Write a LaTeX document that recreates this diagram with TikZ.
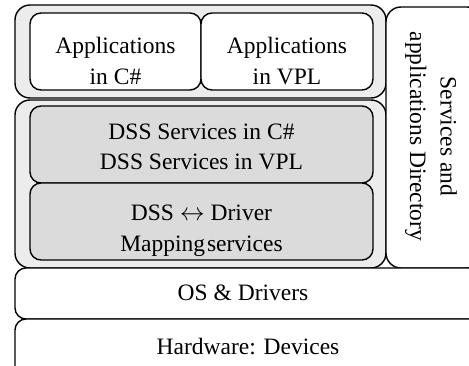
\documentclass[tikz,border=0pt]{standalone}
\usepackage{fontspec}
\setmainfont{Liberation Serif}
\begin{document}
\begin{tikzpicture}[x=1pt,y=-1pt,
  txt/.style={inner sep=0pt, align=center, font=\fontsize{23.5}{30.5}\selectfont},
  box/.style={draw=black, line width=1.4pt, inner sep=0pt, align=center,
    font=\fontsize{23.5}{30.5}\selectfont},
  outer/.style={box, fill=gray!15, rounded corners=15pt},
  inner/.style={box, rounded corners=11pt},
  svc/.style={inner, fill=gray!28},
  app/.style={inner, fill=white},
  base/.style={box, fill=white, rounded corners=11pt}]
\useasboundingbox (0,0) rectangle (469,366);
\clip (0,0) rectangle (469,366);

% application tier
\node[outer, minimum width=371pt, minimum height=93pt] (apptier) at (200.5,51.5) {};
\node[app, minimum width=171pt, minimum height=77pt] (appcs) at (115.5,51.5) {};
\node[app, minimum width=172pt, minimum height=77pt] (appvpl) at (287,51.5) {};
\node[txt] (appcstext) at ([yshift=-9.5pt]appcs.center) {Applications\\in C\#};
\node[txt] (appvpltext) at ([yshift=-9.5pt]appvpl.center) {Applications\\in VPL};

% service tier
\node[outer, minimum width=371pt, minimum height=168pt] (svctier) at (200.5,184) {};
\node[svc, minimum width=343pt, minimum height=77pt] (dss) at (201.5,144.5) {};
\node[svc, minimum width=343pt, minimum height=77pt] (map) at (201.5,221.5) {};
\node[txt] (dsstext) at ([yshift=-2.5pt]dss.center) {DSS Services in C\#\\DSS Services in VPL};
\node[txt] (maptext) at ([yshift=-9.5pt]map.center) {DSS $\leftrightarrow$ Driver\\Mapping\hspace{0.08em}services};

% directory column
\node[base, rounded corners=15pt, minimum width=96pt, minimum height=261pt] (dir) at (434,137.5) {};
\node[txt, rotate=-90] (dirtext) at (431,136.5)
  {Services and\\applications Directory};

% lower layers
\node[base, minimum width=467pt, minimum height=51pt] (os) at (248.5,293.5) {};
\node[base, minimum width=467pt, minimum height=62pt] (hw) at (248.5,350) {};
\node[txt, anchor=base] (ostext) at (243,301) {OS \& Drivers};
\node[txt, anchor=base] (hwtext) at (248,355) {Hardware: Devices};
\end{tikzpicture}
\end{document}
